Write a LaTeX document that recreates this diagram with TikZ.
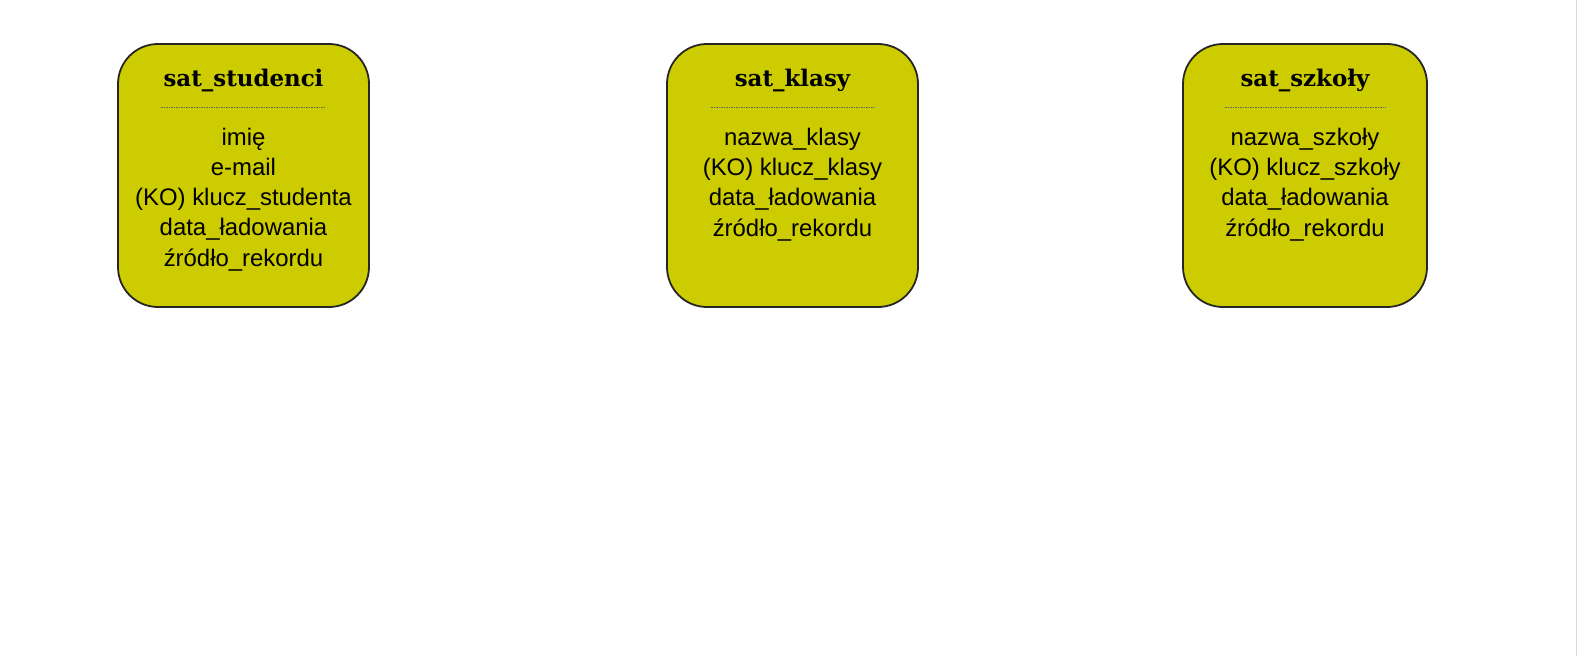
\documentclass[tikz,border=0pt]{standalone}
\usepackage{fontspec}
\setmainfont{Liberation Sans}
\newfontfamily\titlefont{DejaVu Serif}
\usetikzlibrary{positioning}
\definecolor{satyellow}{RGB}{204,204,0}

\tikzset{
	satbox/.style={draw=black!85, line width=1.8bp, fill=satyellow, rounded corners=40bp, minimum height=263bp, inner sep=0pt},
	sattitle/.style={font=\titlefont\bfseries\fontsize{23}{26}\selectfont, inner sep=0pt},
	satfields/.style={font=\fontsize{24}{30.2}\selectfont, align=center, inner sep=0pt},
	satrule/.style={draw=black!60, dash pattern=on 1.5bp off 1bp, line width=0.8bp}
}

\begin{document}
\begin{tikzpicture}[x=1bp, y=1bp]
		%%%%% START %%%%%
		
		\useasboundingbox[fill=white] (0, 0) rectangle (1577, -656);
		\draw[black!15, line width=1bp] (1576, 0) -- (1576, -656);
		
		\node[satbox, minimum width=251bp] (studenci) at (243.5, -175.5) {};
		\node[sattitle, anchor=base] (studenci-title) at (243.5, -87) {sat\_studenci};
		\draw[satrule] (161, -107) -- (325, -107);
		\node[satfields, anchor=base] (studenci-fields) at (243.5, -266) {imię\\e-mail\\(KO) klucz\_studenta\\data\_ładowania\\źródło\_rekordu};
		
		\node[satbox, minimum width=251bp] (klasy) at (792.5, -175.5) {};
		\node[sattitle, anchor=base] (klasy-title) at (792.5, -87) {sat\_klasy};
		\draw[satrule] (711, -107) -- (875, -107);
		\node[satfields, anchor=base] (klasy-fields) at (792.5, -236) {nazwa\_klasy\\(KO) klucz\_klasy\\data\_ładowania\\źródło\_rekordu};
		
		\node[satbox, minimum width=244bp] (szkoly) at (1305, -175.5) {};
		\node[sattitle, anchor=base] (szkoly-title) at (1305, -87) {sat\_szkoły};
		\draw[satrule] (1225, -107) -- (1386, -107);
		\node[satfields, anchor=base] (szkoly-fields) at (1305, -236) {nazwa\_szkoły\\(KO) klucz\_szkoły\\data\_ładowania\\źródło\_rekordu};
		
		%%%%% END %%%%%
\end{tikzpicture}
\end{document}
